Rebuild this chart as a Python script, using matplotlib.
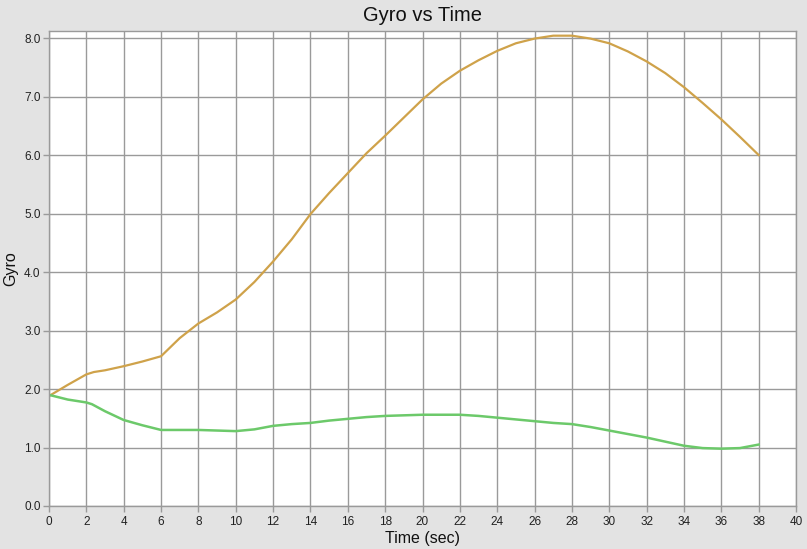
import matplotlib
matplotlib.use("Agg")
import matplotlib.pyplot as plt
import numpy as np

time_orange = [0, 1, 2, 2.4, 3, 4, 5, 6, 7, 8, 9, 10, 11, 12, 13, 14, 15, 16, 17, 18,
               19, 20, 21, 22, 23, 24, 25, 26, 27, 28, 29, 30, 31, 32, 33, 34, 35, 36, 37, 38]
gyro_orange = [1.88, 2.07, 2.25, 2.29, 2.32, 2.39, 2.47, 2.56, 2.87, 3.12, 3.31, 3.53, 3.83, 4.18, 4.56,
               4.99, 5.35, 5.69, 6.03, 6.33, 6.64, 6.95, 7.22, 7.44, 7.62, 7.78, 7.91, 7.99, 8.04,
               8.04, 7.99, 7.91, 7.77, 7.60, 7.40, 7.16, 6.89, 6.61, 6.31, 6.00]

time_green = [0, 1, 2, 2.3, 3, 4, 5, 6, 7, 8, 9, 10, 11, 12, 13, 14, 15, 16, 17, 18, 19,
              20, 21, 22, 23, 24, 25, 26, 27, 28, 29, 30, 31, 32, 33, 34, 35, 36, 37, 38]
gyro_green = [1.90, 1.82, 1.77, 1.74, 1.62, 1.47, 1.38, 1.30, 1.30, 1.30, 1.29, 1.28, 1.31, 1.37, 1.40,
              1.42, 1.46, 1.49, 1.52, 1.54, 1.55, 1.56, 1.56, 1.56, 1.54, 1.51, 1.48, 1.45, 1.42,
              1.40, 1.35, 1.29, 1.23, 1.17, 1.10, 1.03, 0.99, 0.98, 0.99, 1.05]

x_ticks = list(range(0, 41, 2))
y_ticks = [0.0, 1.0, 2.0, 3.0, 4.0, 5.0, 6.0, 7.0, 8.0]

plt.rcParams['font.family'] = ['Liberation Sans', 'DejaVu Sans']

fig = plt.figure(figsize=(8.07, 5.49), dpi=100, facecolor='#e3e3e3')
ax = fig.add_axes([49/807, 43/549, (796-49)/807, (506-31)/549])
ax.set_facecolor('white')

ax.plot(time_orange, gyro_orange, color='#cfa24a', lw=1.6)
ax.plot(time_green, gyro_green, color='#6cc96a', lw=1.8)

ax.set_xlim(0, 40)
ax.set_ylim(0, 8.12)
ax.set_xticks(x_ticks)
ax.set_xticklabels([str(t) for t in x_ticks])
ax.set_yticks(y_ticks)
ax.set_yticklabels([f"{v:.1f}" for v in y_ticks])
ax.grid(True, color='#9a9a9a', lw=1.0)
ax.set_axisbelow(True)
for s in ax.spines.values():
    s.set_color('#9a9a9a')
    s.set_linewidth(1.0)
ax.tick_params(axis='both', colors='#9a9a9a', labelcolor='#222222', labelsize=8.5, length=4, width=1.0)
ax.tick_params(axis='x', pad=3)
ax.tick_params(axis='y', pad=2)

ax.set_title('Gyro vs Time', fontsize=14.5, color='#111111', pad=7)
ax.set_xlabel('Time (sec)', fontsize=11.5, color='#111111', labelpad=2)
ax.set_ylabel('Gyro', fontsize=11.5, color='#111111', labelpad=4)

fig.savefig('out.png', dpi=100, facecolor=fig.get_facecolor())
